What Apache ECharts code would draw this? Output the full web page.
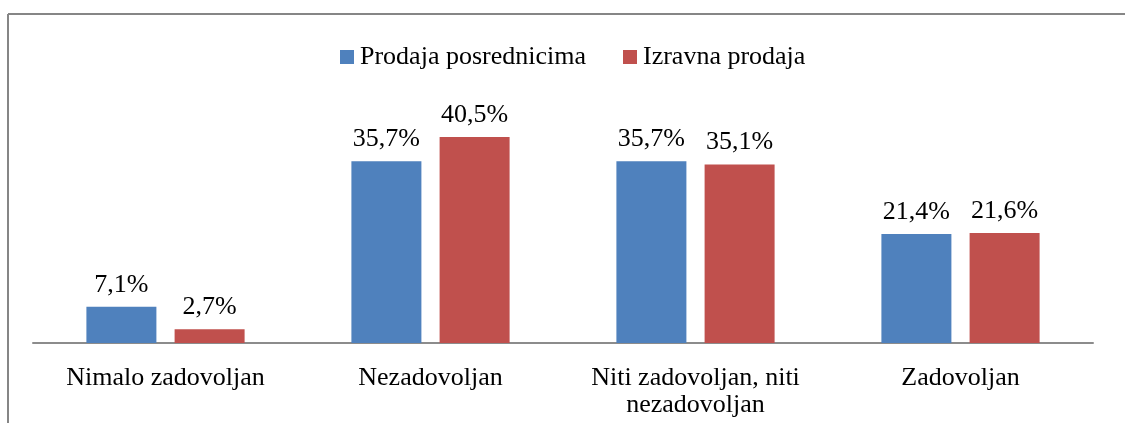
<!DOCTYPE html>
<html>
<head>
<meta charset="utf-8">
<script src="https://cdn.jsdelivr.net/npm/echarts@6/dist/echarts.min.js"></script>
<style>
  html, body { margin: 0; padding: 0; background: #fff; }
  #chart { width: 1125px; height: 423px; }
</style>
</head>
<body>
<div id="chart"></div>
<script>
var categories = ['Nimalo zadovoljan', 'Nezadovoljan', 'Niti zadovoljan, niti\nnezadovoljan', 'Zadovoljan'];
var seriesNames = ['Prodaja posrednicima', 'Izravna prodaja'];
var posrednici = [7.1, 35.7, 35.7, 21.4];
var izravna = [2.7, 40.5, 35.1, 21.6];

var font = '"Liberation Serif", "Times New Roman", serif';
var chart = echarts.init(document.getElementById('chart'));

function fmt(p) {
    return p.value.toFixed(1).replace('.', ',') + '%';
}

var option = {
    animation: false,
    textStyle: { fontFamily: font },
    legend: {
        top: 39,
        left: 335,
        itemWidth: 14,
        itemHeight: 14,
        itemGap: 37,
        icon: 'rect',
        textStyle: { fontFamily: font, fontSize: 26, color: '#000', padding: [0, 0, 0, 1] },
        data: seriesNames
    },
    grid: { left: 33, right: 32, top: 114, bottom: 80, containLabel: false },
    xAxis: {
        type: 'category',
        data: categories,
        axisLine: { lineStyle: { color: '#8c8c8c', width: 2 } },
        axisTick: { show: false },
        axisLabel: { interval: 0, fontFamily: font, fontSize: 26, color: '#000', margin: 22, lineHeight: 27 }
    },
    yAxis: {
        type: 'value',
        min: 0,
        max: 45,
        show: false
    },
    series: [
        {
            name: seriesNames[0],
            type: 'bar',
            data: posrednici,
            barWidth: 70,
            barGap: '26%',
            itemStyle: { color: '#4f81bd' },
            label: { show: true, position: 'top', distance: 9, formatter: fmt, fontFamily: font, fontSize: 26, color: '#000' }
        },
        {
            name: seriesNames[1],
            type: 'bar',
            data: izravna,
            barWidth: 70,
            itemStyle: { color: '#c0504d' },
            label: { show: true, position: 'top', distance: 9, formatter: fmt, fontFamily: font, fontSize: 26, color: '#000' }
        }
    ],
    graphic: [
        { type: 'line', shape: { x1: 8, y1: 14, x2: 1125, y2: 14 }, style: { stroke: '#868686', lineWidth: 2 } },
        { type: 'line', shape: { x1: 8, y1: 14, x2: 8, y2: 423 }, style: { stroke: '#868686', lineWidth: 2 } }
    ]
};
chart.setOption(option);
</script>
</body>
</html>
